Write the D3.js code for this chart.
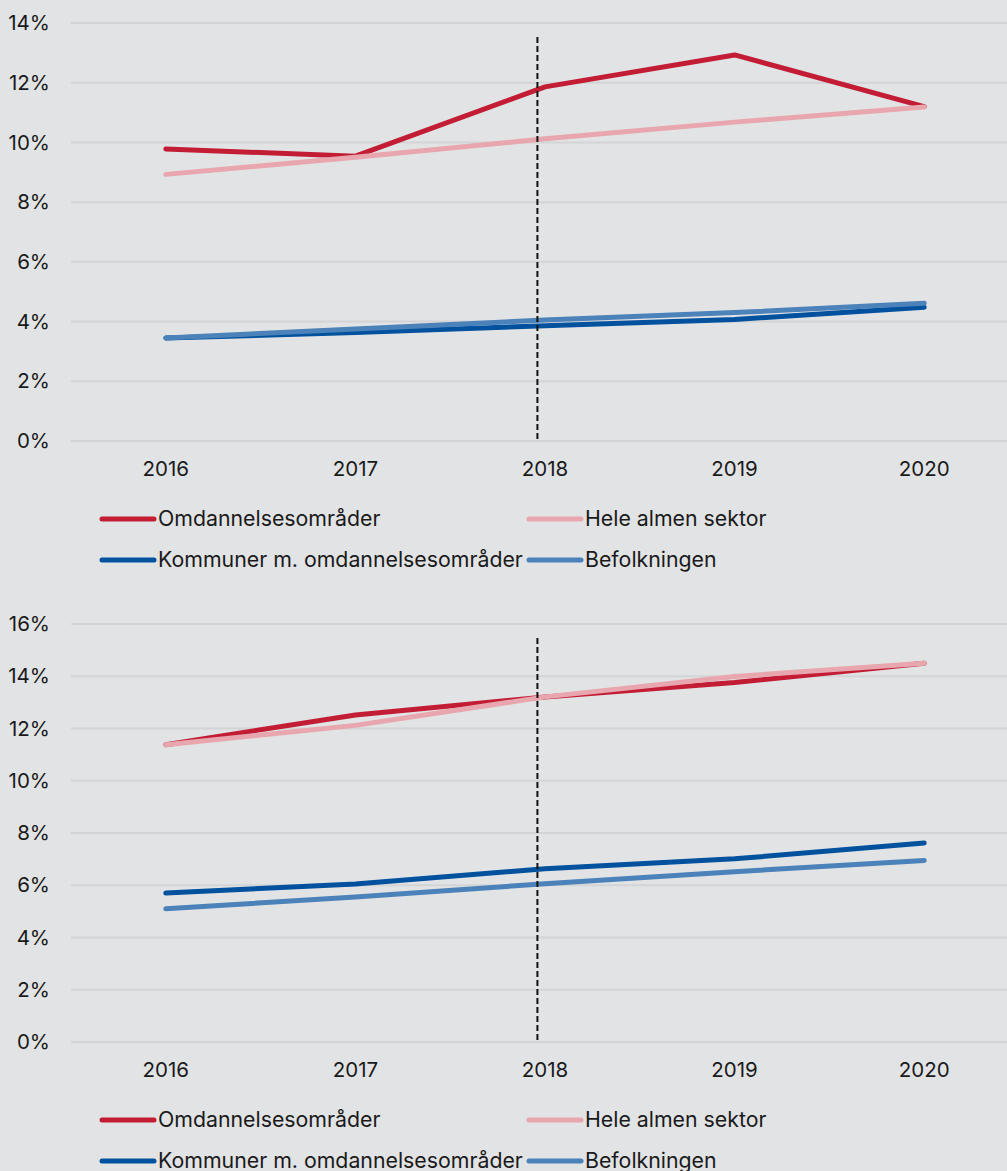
<!DOCTYPE html>
<html><head><meta charset="utf-8">
<script src="https://cdn.jsdelivr.net/npm/d3@7"></script>
<style>
html,body{margin:0;padding:0;background:#e2e3e5;}
svg{display:block;font-family:Inter,"Noto Sans",sans-serif;}
</style></head>
<body>
<svg id="c" width="1007" height="1171"></svg>
<script>
const years = [2016, 2017, 2018, 2019, 2020];
const seriesNames = ["Omdannelsesområder", "Hele almen sektor", "Kommuner m. omdannelsesområder", "Befolkningen"];
const seriesColors = ["#c21d34", "#e8a7ae", "#00519e", "#4a82b9"];

// Panel 1 values (%)
const p1Omdannelse = [9.78, 9.54, 11.86, 12.93, 11.2];
const p1Almen = [8.93, 9.5, 10.12, 10.68, 11.19];
const p1Kommuner = [3.45, 3.63, 3.86, 4.07, 4.48];
const p1Befolkning = [3.45, 3.75, 4.05, 4.3, 4.61];
const p1Ticks = [0, 2, 4, 6, 8, 10, 12, 14];

// Panel 2 values (%)
const p2Omdannelse = [11.38, 12.52, 13.21, 13.76, 14.5];
const p2Almen = [11.38, 12.12, 13.21, 13.99, 14.5];
const p2Kommuner = [5.7, 6.05, 6.63, 7.01, 7.62];
const p2Befolkning = [5.1, 5.55, 6.06, 6.52, 6.95];
const p2Ticks = [0, 2, 4, 6, 8, 10, 12, 14, 16];

const markerYear = 2017.96;

const svg = d3.select("#c");
const W = 1007;

function drawPanel(top, ticks, series) {
  const g = svg.append("g").attr("transform", `translate(0,${top})`);
  const yMax = ticks[ticks.length - 1];
  const y = d3.scaleLinear().domain([0, yMax]).range([441, 23]);
  const xb = d3.scaleBand().domain(years).range([71, 1019]);
  const x = d3.scaleLinear().domain([2016, 2020]).range([xb(2016) + xb.bandwidth() / 2, xb(2020) + xb.bandwidth() / 2]);

  g.append("g").selectAll("line").data(ticks).join("line")
    .attr("x1", 71).attr("x2", W)
    .attr("y1", d => y(d)).attr("y2", d => y(d))
    .attr("stroke", "#d3d4d6").attr("stroke-width", 2);

  g.append("g").selectAll("text").data(ticks).join("text")
    .attr("x", 50).attr("y", d => y(d)).attr("dy", "0.35em")
    .attr("text-anchor", "end").attr("font-size", 20.5).attr("fill", "#1a1a1a")
    .text(d => d + "%");

  g.append("g").selectAll("text").data(years).join("text")
    .attr("x", d => xb(d) + xb.bandwidth() / 2).attr("y", 476)
    .attr("text-anchor", "middle").attr("font-size", 20.5).attr("fill", "#1a1a1a")
    .text(d => d);

  const line = d3.line().x((d, i) => x(years[i])).y(d => y(d));
  series.forEach((s, k) => {
    g.append("path").datum(s)
      .attr("d", line).attr("fill", "none")
      .attr("stroke", seriesColors[k]).attr("stroke-width", 5)
      .attr("stroke-linecap", "round").attr("stroke-linejoin", "round");
  });

  g.append("line")
    .attr("x1", x(markerYear)).attr("x2", x(markerYear))
    .attr("y1", 37).attr("y2", y(0))
    .attr("stroke", "#111").attr("stroke-width", 2).attr("stroke-dasharray", "6,3");

  const legPos = [[100, 519], [527, 519], [100, 560], [527, 560]];
  seriesNames.forEach((name, k) => {
    const [lx, ly] = legPos[k];
    g.append("line").attr("x1", lx + 2).attr("x2", lx + 54).attr("y1", ly).attr("y2", ly)
      .attr("stroke", seriesColors[k]).attr("stroke-width", 5).attr("stroke-linecap", "round");
    g.append("text").attr("x", lx + 58).attr("y", ly).attr("dy", "0.35em")
      .attr("font-size", 21.3).attr("fill", "#1a1a1a").text(name);
  });
}

drawPanel(0, p1Ticks, [p1Omdannelse, p1Almen, p1Kommuner, p1Befolkning]);
drawPanel(601, p2Ticks, [p2Omdannelse, p2Almen, p2Kommuner, p2Befolkning]);
</script>
</body></html>
